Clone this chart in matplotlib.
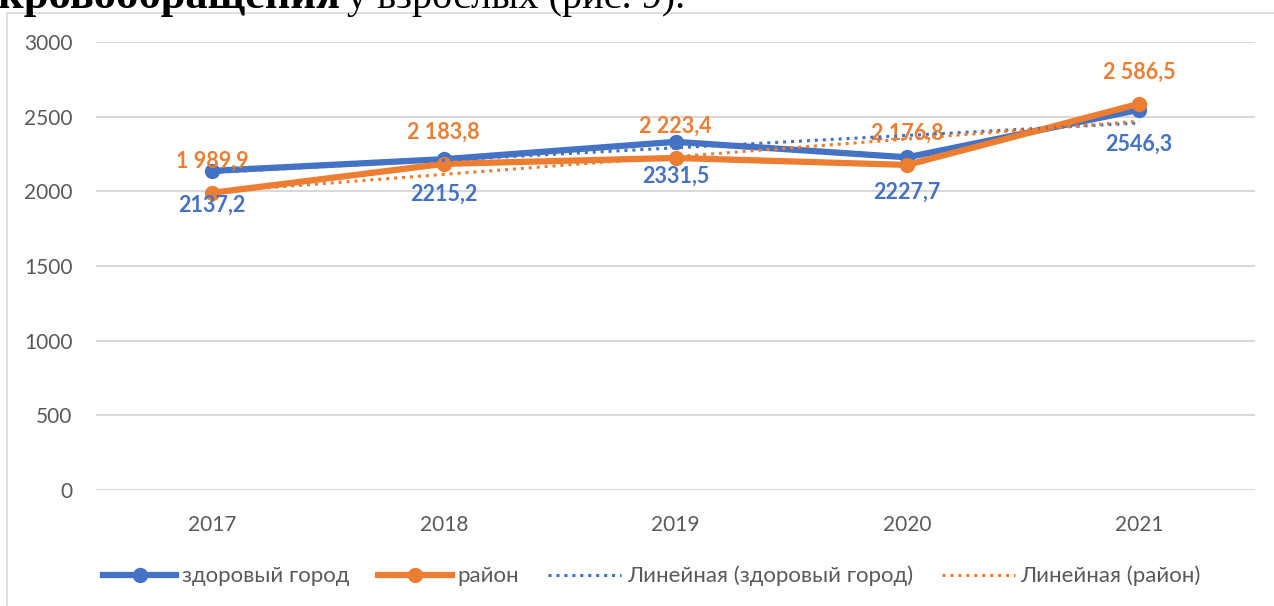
import numpy as np
import matplotlib
matplotlib.use("Agg")
import matplotlib.pyplot as plt
from matplotlib.lines import Line2D
from matplotlib.patches import Rectangle

years = ["2017", "2018", "2019", "2020", "2021"]
city = [2137.2, 2215.2, 2331.5, 2227.7, 2546.3]
district = [1989.9, 2183.8, 2223.4, 2176.8, 2586.5]
series_names = ["здоровый город", "район"]
trend_names = ["Линейная (здоровый город)", "Линейная (район)"]
yticks = [0, 500, 1000, 1500, 2000, 2500, 3000]
header_bold = "кровообращения"
header_rest = "у взрослых (рис. 9)."

BLUE = "#4472C4"
ORANGE = "#ED7D31"
GRID = "#D9D9D9"
TXT = "#595959"
FONT = ["Lato", "DejaVu Sans"]

plt.rcParams["font.family"] = FONT

W, H = 1274, 606
fig = plt.figure(figsize=(W / 100, H / 100), dpi=100)

def fx(px):
    return px / W

def fy(py):
    return 1 - py / H

# header text (partially covered by chart box, as in the source page)
fig.text(fx(340), fy(8), header_bold, ha="right", va="baseline",
         family="Liberation Serif", weight="bold", size=32, color="black")
fig.text(fx(347), fy(8), header_rest, ha="left", va="baseline",
         family="Liberation Serif", size=29, color="black")

# chart box (white, covers header bottoms)
fig.patches.append(Rectangle((fx(7), -0.05), 1.2, fy(13) + 0.05,
                             transform=fig.transFigure, facecolor="white",
                             edgecolor=GRID, linewidth=1.2, zorder=1))

ax = fig.add_axes([fx(96), fy(490), fx(1255) - fx(96), fy(42) - fy(490)])
ax.set_zorder(2)
ax.patch.set_alpha(0)
x = np.arange(len(years))

ax.set_xlim(-0.5, len(years) - 0.5)
ax.set_ylim(0, 3000)
ax.set_yticks(yticks)
ax.set_xticks(x)
ax.set_xticklabels(years)
for s in ax.spines.values():
    s.set_visible(False)
ax.grid(axis="y", color=GRID, linewidth=1.5)
ax.set_axisbelow(True)
ax.tick_params(axis="both", length=0, labelsize=15, labelcolor=TXT)
ax.tick_params(axis="y", pad=17)
ax.tick_params(axis="x", pad=18)

ax.plot(x, city, color=BLUE, lw=4.5, marker="o", ms=10, zorder=3, solid_capstyle="round")
ax.plot(x, district, color=ORANGE, lw=4.5, marker="o", ms=10, zorder=4, solid_capstyle="round")

# linear trend lines
for vals, col in ((city, BLUE), (district, ORANGE)):
    k, b = np.polyfit(x, vals, 1)
    ax.plot(x, k * x + b, color=col, lw=2.2, linestyle=(0, (1, 1.6)), zorder=6)

for xi, v in zip(x, district):
    lab = f"{v:,.1f}".replace(",", " ").replace(".", ",")
    ax.annotate(lab, (xi, v), xytext=(0, 23), textcoords="offset points",
                ha="center", va="center", color=ORANGE, weight="bold", size=15.5, zorder=5)
for xi, v in zip(x, city):
    lab = f"{v:.1f}".replace(".", ",")
    ax.annotate(lab, (xi, v), xytext=(0, -25), textcoords="offset points",
                ha="center", va="center", color=BLUE, weight="bold", size=15.5, zorder=5)

handles = [
    Line2D([], [], color=BLUE, lw=4.5, marker="o", ms=10),
    Line2D([], [], color=ORANGE, lw=4.5, marker="o", ms=10),
    Line2D([], [], color=BLUE, lw=2.2, linestyle=(0, (1, 1.6))),
    Line2D([], [], color=ORANGE, lw=2.2, linestyle=(0, (1, 1.6))),
]
leg = fig.legend(handles, series_names + trend_names, loc="center",
                 bbox_to_anchor=(fx(652), fy(576)), ncol=4, frameon=False,
                 fontsize=16, handlelength=3.3, handletextpad=0.25,
                 columnspacing=1.3, labelcolor=TXT)
leg.set_zorder(3)

fig.savefig("out.png", dpi=100)
